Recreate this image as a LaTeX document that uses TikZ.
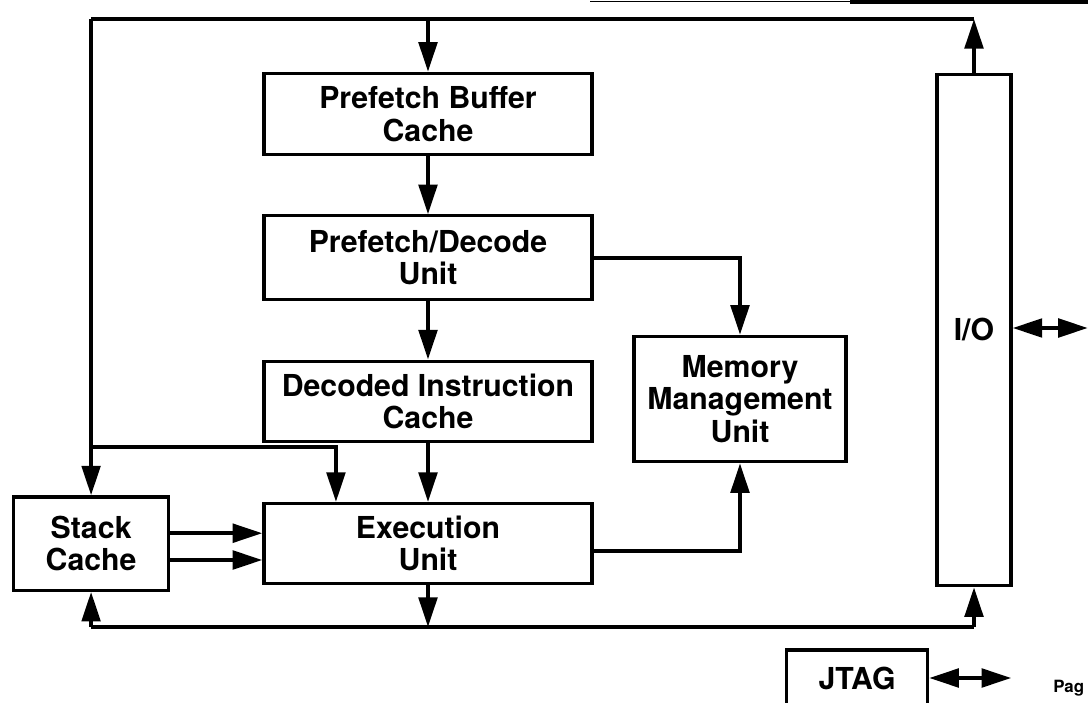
\documentclass[tikz,border=0pt]{standalone}
\usepackage{fontspec}
\setmainfont{TeX Gyre Heros}
\usetikzlibrary{arrows.meta, positioning, calc}

\begin{document}
\begin{tikzpicture}[
      x=0.025cm, y=-0.025cm,
      >={Triangle[length=0.74cm, width=0.46cm]},
      blk/.style={draw, rectangle, line width=2.3pt, align=center, inner sep=0pt,
                  font=\fontsize{21.5}{23}\selectfont\bfseries},
      arr/.style={->, line width=2.9pt},
      dbl/.style={<->, line width=2.9pt},
      bus/.style={line width=2.9pt}
    ]
      \useasboundingbox (0,0) rectangle (1088,703);
      \node[blk, minimum width=8.2cm, minimum height=2.03cm] (pbuf) at (428,114) {Prefetch Buffer\\Cache};
      \node[blk, minimum width=8.2cm, minimum height=2.1cm, below=1.45cm of pbuf] (pdec) {Prefetch/Decode\\Unit};
      \node[blk, minimum width=8.2cm, minimum height=2cm, below=1.45cm of pdec] (dcache) {Decoded Instruction\\Cache};
      \node[blk, minimum width=8.2cm, minimum height=2cm, below=1.48cm of dcache] (exec) {Execution\\Unit};
      \node[blk, minimum width=3.88cm, minimum height=2.33cm, left=2.3cm of exec] (stack) {Stack\\Cache};
      \node[blk, minimum width=5.3cm, minimum height=3.13cm] (mmu) at (740,399) {Memory\\Management\\Unit};
      \node[blk, minimum width=1.85cm, minimum height=12.78cm] (io) at (974,330) {I/O};
      \node[blk, minimum width=3.53cm, minimum height=1.4cm] (jtag) at (857,678) {JTAG};
      \node[anchor=base west, inner sep=0pt, font=\fontsize{12}{12}\selectfont\bfseries] (pg) at (1053,692) {Pag};
      \coordinate (tl) at (stack.north |- 0,19);
      \coordinate (tr) at (io.north |- tl);
      \coordinate (bl) at (stack.south |- 0,627);
      \coordinate (brr) at (io.south |- bl);
      \coordinate (br) at (tl |- 0,447);
      \coordinate[right=1.88cm of io.east] (ioext);
      \coordinate[right=2.05cm of jtag.east] (jtagext);
      \draw[bus] (tl) -- (tr);
      \draw[bus] (bl) -- (brr);
      \draw[arr] (tl) -- (stack.north);
      \draw[arr] (pbuf.north |- tl) -- (pbuf);
      \draw[arr] (io.north) -- (tr);
      \draw[arr] (pbuf) -- (pdec);
      \draw[arr] (pdec) -- (dcache);
      \draw[arr] (dcache) -- (exec);
      \draw[arr] (br) -| ([xshift=-2.3cm]exec.north);
      \draw[arr] (pdec.east) -| (mmu.north);
      \draw[arr] ([yshift=-0.18cm]exec.east) -| (mmu.south);
      \draw[arr] ([yshift=0.26cm]stack.east) -- ([yshift=0.26cm]stack.east -| exec.west);
      \draw[arr] ([yshift=-0.41cm]stack.east) -- ([yshift=-0.41cm]stack.east -| exec.west);
      \draw[arr] (exec) -- (exec.south |- bl);
      \draw[arr] (bl) -- (stack.south);
      \draw[arr] (brr) -- (io.south);
      \draw[dbl] (io.east |- 0,328) -- (ioext |- 0,328);
      \draw[dbl] (jtag.east) -- (jtagext);
      \draw[line width=0.6pt] (590,1) -- (850,1);
      \draw[line width=2.8pt] (850,2) -- (1088,2);
    \end{tikzpicture}
\end{document}
